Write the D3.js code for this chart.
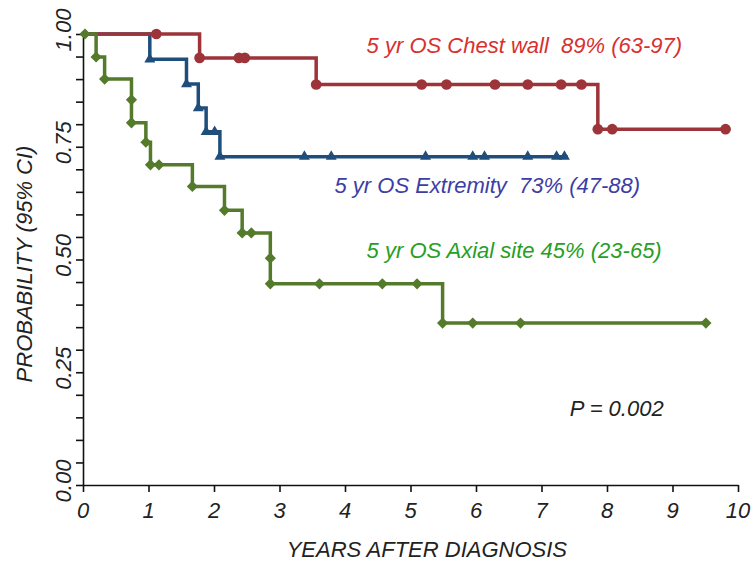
<!DOCTYPE html>
<html>
<head>
<meta charset="utf-8">
<script src="https://cdn.jsdelivr.net/npm/d3@7"></script>
<style>
  body { margin: 0; background: #fff; }
  text { font-family: "Liberation Sans", Arial, sans-serif; font-style: italic; }
</style>
</head>
<body>
<div id="chart"></div>
<script>
// Kaplan-Meier curves (years, survival probability)
// events: step drops, each also drawn with a marker at the lower level
var chestEvents = [[1.78, 0.947], [3.56, 0.888], [7.86, 0.789]];
var chestCensored = [1.12, 2.38, 2.47, 5.17, 5.55, 6.29, 6.79, 7.30, 7.61, 8.08, 9.81];
var chestEnd = 9.81;

var extremityEvents = [[1.02, 0.944], [1.58, 0.889], [1.76, 0.836], [1.88, 0.783], [2.09, 0.728]];
var extremityCensored = [2.01, 3.38, 3.79, 5.23, 5.95, 6.13, 6.79, 7.23, 7.35];
var extremityEnd = 7.40;

var axialEvents = [[0.20, 0.949], [0.33, 0.900], [0.74, 0.854], [0.74, 0.803], [0.96, 0.760],
    [1.03, 0.710], [1.67, 0.662], [2.16, 0.609], [2.43, 0.559], [2.86, 0.503], [2.86, 0.446], [5.49, 0.359]];
var axialCensored = [0.03, 1.16, 2.57, 3.61, 4.57, 5.10, 5.95, 6.68, 9.51];
var axialEnd = 9.51;

var xTicks = [0, 1, 2, 3, 4, 5, 6, 7, 8, 9, 10];
var yTicks = d3.range(0, 21).map(function(i) { return i / 20; });
var yLabels = [0, 0.25, 0.5, 0.75, 1];

var labels = [
    {text: "5 yr OS Chest wall  89% (63-97)", x: 4.33, y: 0.958, color: "#d8302f"},
    {text: "5 yr OS Extremity  73% (47-88)", x: 3.84, y: 0.648, color: "#3d3da6"},
    {text: "5 yr OS Axial site 45% (23-65)", x: 4.33, y: 0.504, color: "#25a025"},
    {text: "P = 0.002", x: 7.43, y: 0.154, color: "#222"}
];

var margin = {top: 34, right: 18, bottom: 80, left: 83};
var width = 756 - margin.left - margin.right,
    height = 565 - margin.top - margin.bottom;

var svg = d3.select("#chart").append("svg")
    .attr("width", 756)
    .attr("height", 565);

var g = svg.append("g")
    .attr("transform", "translate(" + margin.left + "," + margin.top + ")");

var x = d3.scaleLinear().domain([0, 10]).range([0, width]);
var y = d3.scaleLinear().domain([0, 1]).range([height, 0]);

// axes
var xAxis = g.append("g")
    .attr("transform", "translate(0," + height + ")")
    .call(d3.axisBottom(x).tickValues(xTicks).tickSize(7).tickSizeOuter(0).tickFormat(""));
var yAxis = g.append("g")
    .call(d3.axisLeft(y).tickValues(yTicks).tickSize(7).tickSizeOuter(0).tickFormat(""));

[xAxis, yAxis].forEach(function(a) {
    a.select(".domain").attr("stroke", "#111").attr("stroke-width", 1.6);
    a.selectAll(".tick line").attr("stroke", "#111").attr("stroke-width", 1.6);
});

g.selectAll(".xlab").data(xTicks).enter().append("text")
    .attr("class", "xlab")
    .attr("x", function(d) { return x(d); })
    .attr("y", height + 33)
    .attr("text-anchor", "middle")
    .attr("font-size", 22)
    .attr("fill", "#222")
    .text(function(d) { return d; });

g.selectAll(".ylab").data(yLabels).enter().append("text")
    .attr("class", "ylab")
    .attr("transform", function(d) { return "translate(-12," + (y(d) - 4) + ") rotate(-90)"; })
    .attr("text-anchor", "middle")
    .attr("font-size", 22)
    .attr("fill", "#222")
    .text(function(d) { return d3.format(".2f")(d); });

g.append("text")
    .attr("x", x(5.25))
    .attr("y", height + 72)
    .attr("text-anchor", "middle")
    .attr("font-size", 22)
    .attr("fill", "#222")
    .text("YEARS AFTER DIAGNOSIS");

g.append("text")
    .attr("transform", "translate(-51," + y(0.49) + ") rotate(-90)")
    .attr("text-anchor", "middle")
    .attr("font-size", 22)
    .attr("fill", "#222")
    .text("PROBABILITY (95% CI)");

// step value at time t
function survAt(events, t) {
    var s = 1;
    events.forEach(function(e) { if (e[0] <= t) s = e[1]; });
    return s;
}

var line = d3.line()
    .x(function(d) { return x(d[0]); })
    .y(function(d) { return y(d[1]); })
    .curve(d3.curveStepAfter);

function drawCurve(events, censored, end, color, symbol, size) {
    var pts = [[0, 1]].concat(events);
    pts.push([end, events[events.length - 1][1]]);

    g.append("path")
        .datum(pts)
        .attr("fill", "none")
        .attr("stroke", color)
        .attr("stroke-width", 3.5)
        .attr("d", line);

    var marks = events.concat(censored.map(function(t) { return [t, survAt(events, t)]; }));
    g.selectAll(null).data(marks).enter().append("path")
        .attr("transform", function(d) { return "translate(" + x(d[0]) + "," + y(d[1]) + ")"; })
        .attr("fill", color)
        .attr("d", d3.symbol().type(symbol).size(size));
}

drawCurve(extremityEvents, extremityCensored, extremityEnd, "#1f4e7c", d3.symbolTriangle, 52);
drawCurve(chestEvents, chestCensored, chestEnd, "#9c343a", d3.symbolCircle, 90);
drawCurve(axialEvents, axialCensored, axialEnd, "#547a2b", d3.symbolDiamond2, 80);

g.selectAll(".note").data(labels).enter().append("text")
    .attr("class", "note")
    .attr("x", function(d) { return x(d.x); })
    .attr("y", function(d) { return y(d.y); })
    .attr("font-size", 22)
    .attr("fill", function(d) { return d.color; })
    .style("white-space", "pre")
    .text(function(d) { return d.text; });
</script>
</body>
</html>
